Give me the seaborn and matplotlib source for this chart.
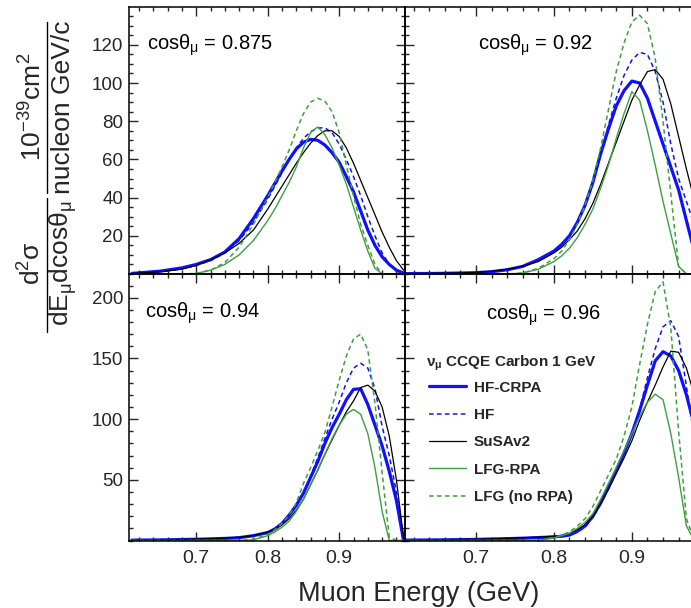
import numpy as np
import pandas as pd
import seaborn as sns
import matplotlib
matplotlib.use("Agg")
import matplotlib.pyplot as plt
from matplotlib.ticker import MultipleLocator, FixedLocator
from matplotlib.lines import Line2D

# ---------------- data ----------------
E = [0.61, 0.65, 0.68, 0.70, 0.72, 0.74, 0.76, 0.78, 0.80, 0.81, 0.82, 0.83, 0.84, 0.85,
     0.86, 0.87, 0.88, 0.89, 0.90, 0.91, 0.92, 0.93, 0.94, 0.95, 0.96, 0.97, 0.98, 0.99]

models = ["HF-CRPA", "HF", "SuSAv2", "LFG-RPA", "LFG (no RPA)"]
panel_labels = ["0.875", "0.92", "0.94", "0.96"]

# cos = 0.875
c875_hfcrpa = [0.3, 1.5, 3.2, 5, 7.5, 11.5, 18.5, 29, 41, 47.5, 54, 60, 65.5, 69, 70.5, 70, 67.5, 63.5, 58.5, 51, 43, 33, 23, 15, 9, 5, 2, 0.5]
c875_hf     = [0.3, 1.3, 2.8, 4.5, 7, 11, 17.5, 27, 39, 46, 53, 60, 66, 71, 74.5, 76.5, 76.5, 74, 68, 60, 51, 41, 30, 20, 11, 5, 1.5, 0.3]
c875_susa   = [0.3, 1.2, 2.5, 4.5, 7.5, 11, 16, 23, 34, 40, 46, 52, 58, 63.5, 68.5, 72.5, 75, 75, 72, 66, 58, 49, 40, 31, 22, 14, 7, 2]
c875_lfgrpa = [0, 0, 0, 0.3, 2, 5, 10, 17.5, 28, 34, 41, 48, 56, 66, 74, 77, 73, 66, 57, 47, 35, 23, 12, 3, 0, 0, 0, 0]
c875_lfg    = [0, 0, 0, 0.3, 2, 6, 14, 26, 40, 48, 56, 65, 75, 84, 90, 92, 90.5, 85, 74, 57, 41, 26, 15, 5, 0, 0, 0, 0]

# cos = 0.92
c92_hfcrpa = [0.2, 0.3, 0.5, 0.7, 1.2, 2.2, 4, 7.5, 12, 15.5, 20, 27, 36, 48, 63, 76, 88, 96, 101, 100, 92, 80, 68, 56, 44, 28, 12, 3]
c92_hf     = [0.2, 0.3, 0.5, 0.7, 1.2, 2.2, 4, 7.5, 12, 15.5, 20, 27, 36, 48, 63, 78, 92, 104, 112, 116, 115, 106, 90, 68, 50, 38, 26, 13]
c92_susa   = [0.2, 0.4, 0.6, 0.8, 1.4, 2.5, 4, 6.5, 11, 14, 18, 22.5, 29, 37, 47, 58, 69, 80, 91, 99, 106, 107, 102, 89, 72, 55, 39, 24]
c92_lfgrpa = [0, 0, 0, 0, 0, 0, 0.5, 2.5, 6.5, 9.5, 13.5, 19, 26, 34, 45, 57, 71, 84, 95.5, 91, 75, 57, 38, 21, 4, 0, 0, 0]
c92_lfg    = [0, 0, 0, 0, 0, 0, 0.5, 3, 8, 12, 18, 26, 36, 49, 66, 86, 106, 121, 132, 135.5, 131, 113, 80, 42, 4, 0, 0, 0]

# cos = 0.94
c94_hfcrpa = [0.3, 0.5, 0.8, 1, 1.3, 1.7, 2.3, 4, 6.5, 9.5, 14, 21, 29, 39, 52, 65, 80, 93, 104, 116, 124.5, 125, 112, 95, 78, 57, 33, 0]
c94_hf     = [0.3, 0.5, 0.8, 1, 1.3, 1.7, 2.3, 4, 6.5, 9.5, 14, 21, 29, 40, 53, 68, 84, 100, 114, 130, 142, 146, 142, 125, 94, 70, 40, 0]
c94_susa   = [0.3, 0.6, 0.9, 1.2, 1.5, 2, 2.7, 4, 7, 9.5, 13, 18, 25, 34, 46, 58, 71, 83, 95, 106, 115, 126, 128, 123, 110, 86, 50, 2]
c94_lfgrpa = [0, 0, 0, 0, 0, 0, 0, 0.5, 4, 7, 11, 16, 24, 34, 46, 58, 71, 84, 95, 104, 108, 104, 88, 60, 24, 0, 0, 0]
c94_lfg    = [0, 0, 0, 0, 0, 0, 0, 1, 5, 9, 14, 21, 31, 47, 60, 74, 89, 110, 132, 152, 166, 170, 157, 113, 56, 3, 0, 0]

# cos = 0.96
c96_hfcrpa = [0.3, 0.5, 0.7, 0.9, 1.2, 1.5, 1.9, 2.4, 3, 3.5, 4.5, 7.5, 12, 20, 31, 44, 58, 72, 88, 107, 128, 148, 155.5, 152, 140, 120, 95, 70]
c96_hf     = [0.3, 0.5, 0.7, 0.9, 1.2, 1.5, 1.9, 2.4, 3, 3.5, 4.5, 7, 11, 19, 30, 43, 57, 72, 88, 108, 134, 158, 176, 181, 168, 127, 85, 40]
c96_susa   = [0.3, 0.6, 0.9, 1.1, 1.4, 1.8, 2.2, 2.8, 3.5, 4.2, 6, 9, 13, 20, 30, 42, 55, 68, 82, 99, 114, 128, 143, 156, 155, 142, 120, 85]
c96_lfgrpa = [0, 0, 0, 0, 0, 0, 0, 0, 2, 4, 6, 10, 15, 22, 34, 47, 60, 74, 88, 102, 114, 120.5, 116, 88, 52, 12, 0, 0]
c96_lfg    = [0, 0, 0, 0, 0, 0, 0, 0, 2.5, 4.5, 7, 12, 18, 28, 41, 54, 67, 86, 110, 145, 178, 205, 213, 175, 90, 18, 0, 0]

panel_data = [
    [c875_hfcrpa, c875_hf, c875_susa, c875_lfgrpa, c875_lfg],
    [c92_hfcrpa, c92_hf, c92_susa, c92_lfgrpa, c92_lfg],
    [c94_hfcrpa, c94_hf, c94_susa, c94_lfgrpa, c94_lfg],
    [c96_hfcrpa, c96_hf, c96_susa, c96_lfgrpa, c96_lfg],
]

# ---------------- style ----------------
sns.set_style("ticks")
plt.rcParams["font.family"] = ["Liberation Sans", "DejaVu Sans"]
plt.rcParams["mathtext.fontset"] = "custom"
plt.rcParams["mathtext.rm"] = "Liberation Sans"
plt.rcParams["mathtext.it"] = "Liberation Sans:italic"
plt.rcParams["mathtext.bf"] = "Liberation Sans:bold"
plt.rcParams["mathtext.default"] = "regular"

BLUE = "#1010ff"
GREEN = "#3f9f3f"
styles = {
    "HF-CRPA": dict(color=BLUE, linestyle="-", linewidth=2.3),
    "HF": dict(color=BLUE, linestyle=(0, (3.0, 2.2)), linewidth=1.1),
    "SuSAv2": dict(color="black", linestyle="-", linewidth=0.9),
    "LFG-RPA": dict(color=GREEN, linestyle="-", linewidth=1.0),
    "LFG (no RPA)": dict(color=GREEN, linestyle=(0, (3.0, 2.2)), linewidth=1.1),
}

W, H = 691, 608
fig = plt.figure(figsize=(W / 100, H / 100), dpi=100)

def px_rect(x0, x1, y0, y1):
    return [x0 / W, 1 - y1 / H, (x1 - x0) / W, (y1 - y0) / H]

# panel geometry (pixels)
col_x = [(129, 405), (405, 702)]
row_y = [(7, 274), (274, 540.5)]
xlims = [(0.606, 0.992), (0.609, 0.990)]
ylims = [(0, 139.8), (0, 219.5)]

axes = []
for i in range(4):
    r, c = divmod(i, 2)
    ax = fig.add_axes(px_rect(col_x[c][0], col_x[c][1], row_y[r][0], row_y[r][1]))
    axes.append(ax)
    long = pd.DataFrame({
        "E": np.tile(E, len(models)),
        "xs": np.concatenate([np.asarray(v, float) for v in panel_data[i]]),
        "model": np.repeat(models, len(E)),
    })
    for m in models:
        sub = long[long["model"] == m]
        sns.lineplot(data=sub, x="E", y="xs", ax=ax, estimator=None, sort=False,
                     label=m, legend=False, **styles[m])
    ax.set_xlim(*xlims[c])
    ax.set_ylim(*ylims[r])
    ax.set_xlabel("")
    ax.set_ylabel("")
    ax.xaxis.set_major_locator(FixedLocator([0.7, 0.8, 0.9]))
    ax.xaxis.set_minor_locator(MultipleLocator(0.02))
    if r == 0:
        ax.yaxis.set_major_locator(FixedLocator([20, 40, 60, 80, 100, 120]))
        ax.yaxis.set_minor_locator(MultipleLocator(5))
    else:
        ax.yaxis.set_major_locator(FixedLocator([50, 100, 150, 200]))
        ax.yaxis.set_minor_locator(MultipleLocator(10))
    ax.tick_params(which="both", direction="in", top=True, right=True, width=1.0,
                   labelsize=13.5, pad=4)
    ax.tick_params(which="major", length=6.5)
    ax.tick_params(which="minor", length=3.2)
    ax.tick_params(axis="x", labelsize=14, pad=7)
    ax.tick_params(labelbottom=(r == 1), labelleft=(c == 0))
    for s in ax.spines.values():
        s.set_linewidth(1.1)
        s.set_color("black")
    ax.patch.set_alpha(0)

# panel titles
txt_kw = dict(fontsize=14.5, color="black")
fig.text(147 / W, 1 - 45 / H, r"cosθ$_\mu$ = " + panel_labels[0], ha="left", va="center", **txt_kw)
fig.text(535 / W, 1 - 45 / H, r"cosθ$_\mu$ = " + panel_labels[1], ha="center", va="center", **txt_kw)
fig.text(145 / W, 1 - 313 / H, r"cosθ$_\mu$ = " + panel_labels[2], ha="left", va="center", **txt_kw)
fig.text(601 / W, 1 - 315 / H, r"cosθ$_\mu$ = " + panel_labels[3], ha="right", va="center", **txt_kw)

# legend in lower-right panel
fig.text(426 / W, 1 - 363 / H, r"ν$_\mu$ CCQE Carbon 1 GeV", ha="left", va="center",
         fontsize=11, fontweight="bold")
handles = [Line2D([], [], **styles[m]) for m in models]
leg = axes[3].legend(handles, models,
                     loc="upper left", bbox_to_anchor=(429.5 / W, 1 - 380.5 / H),
                     bbox_transform=fig.transFigure, frameon=False,
                     prop=dict(weight="bold", size=11),
                     handlelength=2.4, handletextpad=0.5, labelspacing=0.88,
                     borderpad=0, borderaxespad=0)

# axis labels
fig.text(419 / W, 1 - 594 / H, "Muon Energy (GeV)", ha="center", va="center", fontsize=19.5)

ylab_kw = dict(rotation=90, ha="center", va="center", fontsize=19)
fig.text(33 / W, 1 - 107 / H, r"10$^{-39}$cm$^{2}$", **ylab_kw)
fig.text(63 / W, 1 - 107 / H, "nucleon GeV/c", **ylab_kw)
fig.text(32 / W, 1 - 263 / H, r"d$^{2}$σ", **ylab_kw)
fig.text(63 / W, 1 - 263 / H, r"dE$_\mu$dcosθ$_\mu$", **ylab_kw)
fig.add_artist(Line2D([47 / W, 47 / W], [1 - 22 / H, 1 - 193 / H], color="black", lw=1.0,
                      transform=fig.transFigure))
fig.add_artist(Line2D([47 / W, 47 / W], [1 - 198 / H, 1 - 332 / H], color="black", lw=1.0,
                      transform=fig.transFigure))

fig.savefig("out.png", dpi=100)
